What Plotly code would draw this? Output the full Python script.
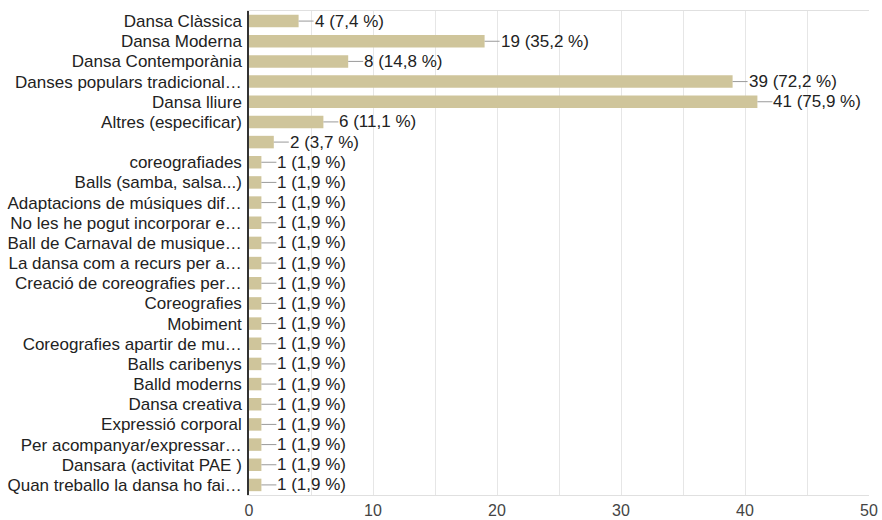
import plotly.graph_objects as go

# Responses per dance type (multiple choice, 54 respondents)
categories = [
    "Dansa Clàssica",
    "Dansa Moderna",
    "Dansa Contemporània",
    "Danses populars tradicional…",
    "Dansa lliure",
    "Altres (especificar)",
    "",
    "coreografiades",
    "Balls (samba, salsa...)",
    "Adaptacions de músiques dif…",
    "No les he pogut incorporar e…",
    "Ball de Carnaval de musique…",
    "La dansa com a recurs per a…",
    "Creació de coreografies per…",
    "Coreografies",
    "Mobiment",
    "Coreografies apartir de mu…",
    "Balls caribenys",
    "Balld moderns",
    "Dansa creativa",
    "Expressió corporal",
    "Per acompanyar/expressar…",
    "Dansara (activitat PAE )",
    "Quan treballo la dansa ho fai…",
]
counts = [4, 19, 8, 39, 41, 6, 2, 1, 1, 1, 1, 1, 1, 1, 1, 1, 1, 1, 1, 1, 1, 1, 1, 1]
respondents = 54

x_ticks = [0, 10, 20, 30, 40, 50]

FONT = "Liberation Sans, Arial, sans-serif"
BAR_COLOR = "#CFC59B"

# one row per answer; the row index keeps the blank answer distinct
rows = list(range(len(categories)))


def label(v):
    pct = f"{v / respondents * 100:.1f}".replace(".", ",")
    return f"{v} ({pct} %)"


fig = go.Figure(
    go.Bar(
        x=counts,
        y=rows,
        orientation="h",
        width=0.62,
        marker=dict(color=BAR_COLOR, line=dict(width=0)),
        hoverinfo="skip",
    )
)

# Value labels joined to the bar end by a short leader line
for r, v in zip(rows, counts):
    fig.add_annotation(
        x=v, y=r, xref="x", yref="y",
        text=label(v),
        showarrow=True, arrowhead=0, arrowwidth=1, arrowcolor="#9a9a9a",
        ax=15, ay=0, xanchor="left", standoff=0, startstandoff=0,
        font=dict(family=FONT, size=17, color="#222222"),
        borderpad=0,
    )

fig.update_layout(
    template="none",
    width=882, height=520,
    margin=dict(l=249, r=13, t=11, b=25, pad=0),
    paper_bgcolor="white", plot_bgcolor="white",
    showlegend=False,
    font=dict(family=FONT, size=17, color="#222222"),
)

fig.update_xaxes(
    range=[0, 50],
    tickvals=x_ticks,
    tickfont=dict(family=FONT, size=16, color="#444444"),
    showgrid=True, gridcolor="#e6e6e6", gridwidth=1,
    minor=dict(dtick=5, showgrid=True, gridcolor="#e6e6e6", gridwidth=1),
    zeroline=False,
    showline=True, linecolor="#e0e0e0", linewidth=1, mirror=True,
    ticks="", ticklen=0, ticklabelstandoff=1,
    automargin=False, fixedrange=True,
)

fig.update_yaxes(
    range=[len(rows) - 0.5, -0.5],
    tickvals=rows, ticktext=categories,
    tickfont=dict(family=FONT, size=17, color="#222222"),
    showgrid=False, zeroline=False,
    showline=True, linecolor="#333333", linewidth=1.5,
    ticks="", ticklen=0, ticklabelstandoff=2,
    automargin=False, fixedrange=True,
)

fig.write_html("out.html")
